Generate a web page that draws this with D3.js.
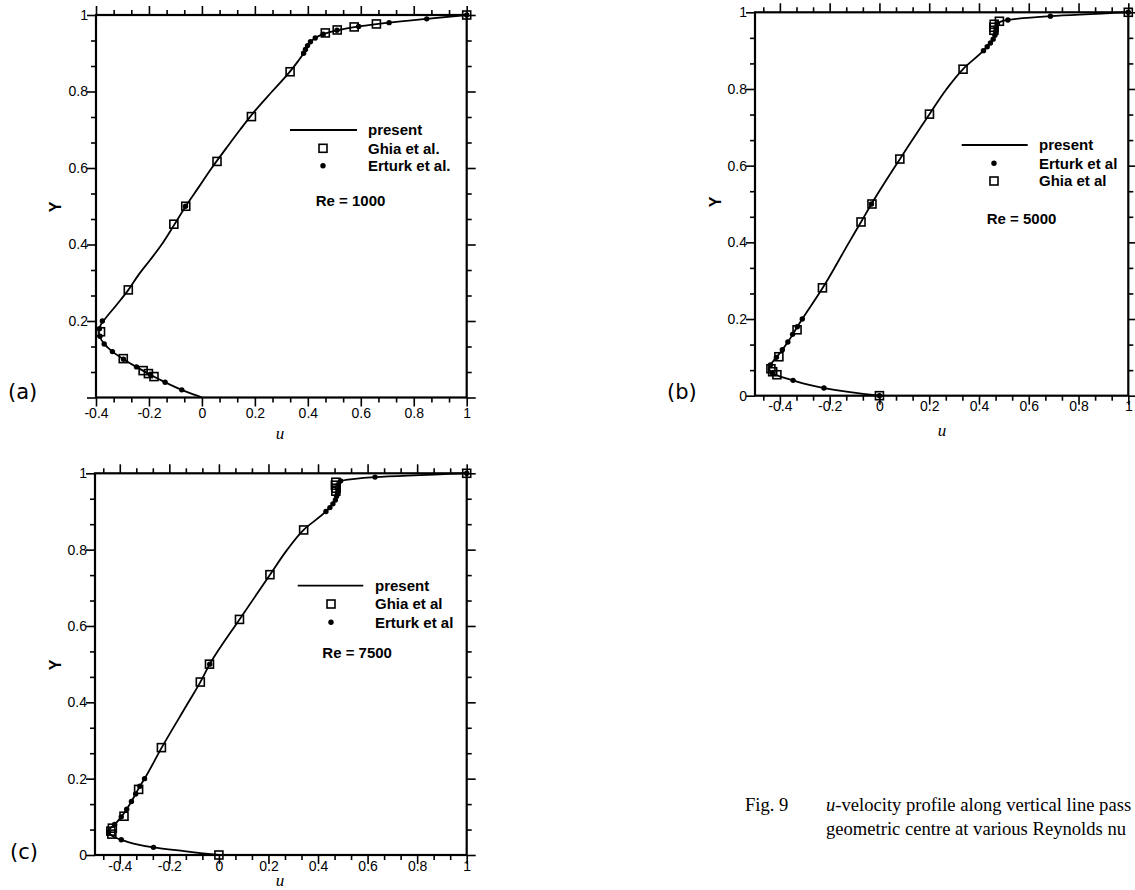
<!DOCTYPE html>
<html><head><meta charset="utf-8">
<script src="https://cdn.jsdelivr.net/npm/d3@7"></script>
<style>html,body{margin:0;padding:0;background:#fff;overflow:hidden} svg{display:block}</style>
</head><body>
<script>
// ---------------- data ----------------
const xTicks = [-0.4, -0.2, 0, 0.2, 0.4, 0.6, 0.8, 1];
const xTickLabels = ["-0.4", "-0.2", "0", "0.2", "0.4", "0.6", "0.8", "1"];
const yTicks = [0, 0.2, 0.4, 0.6, 0.8, 1];
const yTickLabels = ["0", "0.2", "0.4", "0.6", "0.8", "1"];

// Ghia et al. markers
const ghiaY1000 = [1.0, 0.9766, 0.9688, 0.9609, 0.9531, 0.8516, 0.7344, 0.6172, 0.5, 0.4531, 0.2813, 0.1719, 0.1016, 0.0703, 0.0625, 0.0547];
const ghiaU1000 = [1.0, 0.659, 0.575, 0.511, 0.466, 0.333, 0.187, 0.057, -0.061, -0.106, -0.278, -0.383, -0.297, -0.222, -0.202, -0.181];
const ghiaY5000 = [1.0, 0.9766, 0.9688, 0.9609, 0.9531, 0.8516, 0.7344, 0.6172, 0.5, 0.4531, 0.2813, 0.1719, 0.1016, 0.0703, 0.0625, 0.0547, 0.0];
const ghiaU5000 = [1.0, 0.482, 0.461, 0.460, 0.460, 0.336, 0.201, 0.082, -0.030, -0.074, -0.229, -0.331, -0.404, -0.436, -0.429, -0.412, 0.0];
const ghiaY7500 = [1.0, 0.9766, 0.9688, 0.9609, 0.9531, 0.8516, 0.7344, 0.6172, 0.5, 0.4531, 0.2813, 0.1719, 0.1016, 0.0703, 0.0625, 0.0547, 0.0];
const ghiaU7500 = [1.0, 0.472, 0.470, 0.473, 0.472, 0.342, 0.206, 0.083, -0.038, -0.075, -0.232, -0.324, -0.383, -0.430, -0.436, -0.432, 0.0];

// Erturk et al. markers
const erturkY1000 = [1.0, 0.99, 0.98, 0.97, 0.96, 0.95, 0.94, 0.93, 0.92, 0.91, 0.90, 0.50, 0.20, 0.18, 0.16, 0.14, 0.12, 0.10, 0.08, 0.06, 0.04, 0.02];
const erturkU1000 = [1.0, 0.849, 0.707, 0.592, 0.510, 0.458, 0.428, 0.410, 0.399, 0.391, 0.384, -0.062, -0.376, -0.387, -0.385, -0.369, -0.338, -0.296, -0.247, -0.195, -0.139, -0.076];
const erturkY5000 = [1.0, 0.99, 0.98, 0.97, 0.96, 0.95, 0.94, 0.93, 0.92, 0.91, 0.90, 0.50, 0.20, 0.18, 0.16, 0.14, 0.12, 0.10, 0.08, 0.06, 0.04, 0.02, 0.0];
const erturkU5000 = [1.0, 0.687, 0.516, 0.474, 0.468, 0.467, 0.464, 0.457, 0.446, 0.433, 0.418, -0.032, -0.310, -0.330, -0.349, -0.368, -0.390, -0.414, -0.438, -0.431, -0.347, -0.223, 0.0];
const erturkY7500 = [1.0, 0.99, 0.98, 0.97, 0.96, 0.95, 0.94, 0.93, 0.92, 0.91, 0.90, 0.50, 0.20, 0.18, 0.16, 0.14, 0.12, 0.10, 0.08, 0.06, 0.04, 0.02];
const erturkU7500 = [1.0, 0.630, 0.491, 0.481, 0.479, 0.478, 0.475, 0.470, 0.460, 0.448, 0.432, -0.037, -0.300, -0.319, -0.336, -0.353, -0.372, -0.394, -0.421, -0.445, -0.394, -0.264];

// present solution (solid line)
const presentY1000 = [0, 0.01, 0.02, 0.04, 0.06, 0.08, 0.10, 0.12, 0.14, 0.16, 0.17, 0.18, 0.19, 0.20, 0.24, 0.28, 0.32, 0.36, 0.40, 0.45, 0.50, 0.55, 0.60, 0.65, 0.70, 0.75, 0.80, 0.85, 0.88, 0.90, 0.92, 0.94, 0.95, 0.96, 0.97, 0.98, 0.99, 1.0];
const presentU1000 = [0, -0.040, -0.077, -0.140, -0.196, -0.248, -0.296, -0.338, -0.369, -0.386, -0.389, -0.387, -0.382, -0.372, -0.325, -0.279, -0.240, -0.195, -0.152, -0.106, -0.061, -0.012, 0.037, 0.090, 0.144, 0.201, 0.265, 0.330, 0.364, 0.384, 0.399, 0.428, 0.458, 0.510, 0.592, 0.706, 0.849, 1.0];
const presentY5000 = [0, 0.005, 0.01, 0.02, 0.03, 0.04, 0.05, 0.06, 0.07, 0.08, 0.09, 0.10, 0.12, 0.14, 0.16, 0.18, 0.20, 0.28, 0.40, 0.453, 0.50, 0.617, 0.734, 0.80, 0.852, 0.90, 0.92, 0.94, 0.96, 0.97, 0.975, 0.98, 0.99, 1.0];
const presentU5000 = [0, -0.065, -0.125, -0.222, -0.295, -0.347, -0.398, -0.432, -0.443, -0.438, -0.427, -0.414, -0.390, -0.368, -0.348, -0.330, -0.310, -0.229, -0.122, -0.074, -0.032, 0.082, 0.201, 0.270, 0.336, 0.418, 0.446, 0.464, 0.468, 0.474, 0.485, 0.516, 0.687, 1.0];
const presentY7500 = [0, 0.005, 0.01, 0.02, 0.03, 0.04, 0.05, 0.06, 0.07, 0.08, 0.10, 0.12, 0.14, 0.16, 0.18, 0.20, 0.28, 0.40, 0.453, 0.50, 0.617, 0.734, 0.80, 0.852, 0.90, 0.92, 0.94, 0.96, 0.97, 0.98, 0.985, 0.99, 1.0];
const presentU7500 = [0, -0.075, -0.140, -0.264, -0.345, -0.394, -0.430, -0.445, -0.438, -0.421, -0.394, -0.372, -0.353, -0.336, -0.319, -0.300, -0.232, -0.123, -0.075, -0.037, 0.083, 0.206, 0.276, 0.342, 0.432, 0.460, 0.475, 0.479, 0.481, 0.491, 0.540, 0.630, 1.0];

const reLabels = ["Re = 1000", "Re = 5000", "Re = 7500"];
const panelLabels = ["(a)", "(b)", "(c)"];
const legendA = ["present", "Ghia et al.", "Erturk et al."];
const legendB = ["present", "Erturk et al", "Ghia et al"];
const legendC = ["present", "Ghia et al", "Erturk et al"];
const captionNum = "Fig. 9";
const captionLine1 = "-velocity profile along vertical line pass";
const captionLine2 = "geometric centre at various Reynolds nu";

// ---------------- layout ----------------
const W = 1135, H = 890;
const svg = d3.select("body").append("svg").attr("width", W).attr("height", H)
  .style("font-family", "'Liberation Sans', Arial, Helvetica, sans-serif");

const panels = [
  { px: [96, 466.7], py: [397.5, 15], xDom: [-0.4, 1], yDom: [0, 1], yLabelSkip0: true, xLabPad: 11,
    gy: ghiaY1000, gu: ghiaU1000, ey: erturkY1000, eu: erturkU1000, py0: presentY1000, pu0: presentU1000,
    legend: legendA, legOrder: ["line", "sq", "dot"], legX: [290, 357], legMark: 323, legTx: 368, legY: [130, 148.3, 165.7],
    re: reLabels[0], reX: 315.7, reY: 200, lab: panelLabels[0], labX: 8, labY: 399,
    yLab: [55, 207], uLab: [280, 435] },
  { px: [755, 1128.3], py: [395.7, 12.3], xDom: [-0.5, 1], yDom: [0, 1], yLabelSkip0: false, xLabPad: 5,
    gy: ghiaY5000, gu: ghiaU5000, ey: erturkY5000, eu: erturkU5000, py0: presentY5000, pu0: presentU5000,
    legend: legendB, legOrder: ["line", "dot", "sq"], legX: [961.7, 1027.7], legMark: 994, legTx: 1039, legY: [145, 163.3, 181],
    re: reLabels[1], reX: 986.7, reY: 218.3, lab: panelLabels[1], labX: 667, labY: 399,
    yLab: [715, 202], uLab: [942, 432] },
  { px: [95, 466.7], py: [855, 473.3], xDom: [-0.5, 1], yDom: [0, 1], yLabelSkip0: false, xLabPad: 6,
    gy: ghiaY7500, gu: ghiaU7500, ey: erturkY7500, eu: erturkU7500, py0: presentY7500, pu0: presentU7500,
    legend: legendC, legOrder: ["line", "sq", "dot"], legX: [297.7, 363.3], legMark: 331, legTx: 375, legY: [585.7, 604, 622.3],
    re: reLabels[2], reX: 322.3, reY: 652.7, lab: panelLabels[2], labX: 10, labY: 859,
    yLab: [55, 665], uLab: [280, 882] }
];

function minorTicks(dom) {
  const out = [];
  for (let k = -40; k <= 40; k++) {
    if (k % 3 === 0) continue;
    const v = k * 0.2 / 3;
    if (v >= dom[0] - 1e-9 && v <= dom[1] + 1e-9) out.push(v);
  }
  return out;
}

const MAJ = 9, MIN = 5;

panels.forEach(p => {
  const x = d3.scaleLinear().domain(p.xDom).range(p.px);
  const y = d3.scaleLinear().domain(p.yDom).range(p.py);
  const g = svg.append("g");
  const xMaj = xTicks.filter(v => v >= p.xDom[0] - 1e-9);
  const xMajLab = xTickLabels.filter((s, i) => xTicks[i] >= p.xDom[0] - 1e-9);
  const yMaj = yTicks;
  const yMajLab = yTickLabels.map((s, i) => (p.yLabelSkip0 && i === 0) ? "" : s);
  const xMin = minorTicks(p.xDom), yMin = minorTicks(p.yDom);

  const styleAxis = sel => {
    sel.select(".domain").remove();
    sel.selectAll("line").attr("stroke", "#000").attr("stroke-width", 1.6);
    sel.selectAll("text").attr("fill", "#000").style("font-size", "14px")
      .style("font-family", "'Liberation Sans', Arial, sans-serif");
  };

  // bottom
  g.append("g").attr("transform", `translate(0,${p.py[0]})`)
    .call(d3.axisBottom(x).tickValues(xMaj).tickFormat((d, i) => xMajLab[i]).tickSizeInner(MAJ).tickSizeOuter(0).tickPadding(p.xLabPad - MAJ))
    .call(styleAxis);
  g.append("g").attr("transform", `translate(0,${p.py[0]})`)
    .call(d3.axisBottom(x).tickValues(xMin).tickFormat("").tickSizeInner(MIN).tickSizeOuter(0)).call(styleAxis);
  // top
  g.append("g").attr("transform", `translate(0,${p.py[1]})`)
    .call(d3.axisTop(x).tickValues(xMaj).tickFormat("").tickSizeInner(MAJ).tickSizeOuter(0)).call(styleAxis);
  g.append("g").attr("transform", `translate(0,${p.py[1]})`)
    .call(d3.axisTop(x).tickValues(xMin).tickFormat("").tickSizeInner(MIN).tickSizeOuter(0)).call(styleAxis);
  // left
  g.append("g").attr("transform", `translate(${p.px[0]},0)`)
    .call(d3.axisLeft(y).tickValues(yMaj).tickFormat((d, i) => yMajLab[i]).tickSizeInner(MAJ).tickSizeOuter(0).tickPadding(-1))
    .call(styleAxis);
  g.append("g").attr("transform", `translate(${p.px[0]},0)`)
    .call(d3.axisLeft(y).tickValues(yMin).tickFormat("").tickSizeInner(MIN).tickSizeOuter(0)).call(styleAxis);
  // right
  g.append("g").attr("transform", `translate(${p.px[1]},0)`)
    .call(d3.axisRight(y).tickValues(yMaj).tickFormat("").tickSizeInner(MAJ).tickSizeOuter(0)).call(styleAxis);
  g.append("g").attr("transform", `translate(${p.px[1]},0)`)
    .call(d3.axisRight(y).tickValues(yMin).tickFormat("").tickSizeInner(MIN).tickSizeOuter(0)).call(styleAxis);

  // frame
  g.append("rect").attr("x", p.px[0]).attr("y", p.py[1])
    .attr("width", p.px[1] - p.px[0]).attr("height", p.py[0] - p.py[1])
    .attr("fill", "none").attr("stroke", "#000").attr("stroke-width", 2.2);

  // present line
  const pts = p.py0.map((v, i) => ({ u: p.pu0[i], y: v }));
  g.append("path").datum(pts)
    .attr("d", d3.line().x(d => x(d.u)).y(d => y(d.y)).curve(d3.curveMonotoneY))
    .attr("fill", "none").attr("stroke", "#000").attr("stroke-width", 1.8);

  // Ghia squares
  const S = 8;
  g.selectAll(null).data(p.gy.map((v, i) => ({ u: p.gu[i], y: v }))).enter().append("rect")
    .attr("x", d => x(d.u) - S / 2).attr("y", d => y(d.y) - S / 2).attr("width", S).attr("height", S)
    .attr("fill", "none").attr("stroke", "#000").attr("stroke-width", 1.6);
  // Erturk dots
  g.selectAll(null).data(p.ey.map((v, i) => ({ u: p.eu[i], y: v }))).enter().append("circle")
    .attr("cx", d => x(d.u)).attr("cy", d => y(d.y)).attr("r", 2.7).attr("fill", "#000");

  // legend
  p.legOrder.forEach((kind, i) => {
    const ly = p.legY[i];
    if (kind === "line") {
      g.append("line").attr("x1", p.legX[0]).attr("x2", p.legX[1]).attr("y1", ly).attr("y2", ly)
        .attr("stroke", "#000").attr("stroke-width", 1.8);
    } else if (kind === "sq") {
      g.append("rect").attr("x", p.legMark - 4).attr("y", ly - 4).attr("width", 8).attr("height", 8)
        .attr("fill", "none").attr("stroke", "#000").attr("stroke-width", 1.6);
    } else {
      g.append("circle").attr("cx", p.legMark).attr("cy", ly).attr("r", 2.7).attr("fill", "#000");
    }
    g.append("text").attr("x", p.legTx).attr("y", ly + 5.3).text(p.legend[i])
      .style("font-size", "15px").style("font-weight", "bold");
  });
  g.append("text").attr("x", p.reX).attr("y", p.reY + 5.5).text(p.re)
    .style("font-size", "15px").style("font-weight", "bold");

  // axis titles
  g.append("text").attr("transform", `translate(${p.yLab[0] + 5.5},${p.yLab[1]}) rotate(-90)`)
    .attr("text-anchor", "middle").text("Y").style("font-size", "16px").style("font-weight", "bold");
  g.append("text").attr("x", p.uLab[0]).attr("y", p.uLab[1] + 4).attr("text-anchor", "middle").text("u")
    .style("font-family", "'Liberation Serif', 'Times New Roman', serif").style("font-style", "italic").style("font-size", "17px");

  // panel label
  g.append("text").attr("x", p.labX).attr("y", p.labY).text(p.lab)
    .style("font-family", "'DejaVu Sans', Verdana, sans-serif").style("font-size", "21px");
});

// caption
const cap = svg.append("g").style("font-family", "'Liberation Serif', 'Times New Roman', serif").style("font-size", "18.6px");
cap.append("text").attr("x", 745).attr("y", 811).text(captionNum);
const t1 = cap.append("text").attr("x", 826).attr("y", 811);
t1.append("tspan").style("font-style", "italic").text("u");
t1.append("tspan").text(captionLine1);
cap.append("text").attr("x", 826).attr("y", 835).text(captionLine2);
</script>
</body></html>
